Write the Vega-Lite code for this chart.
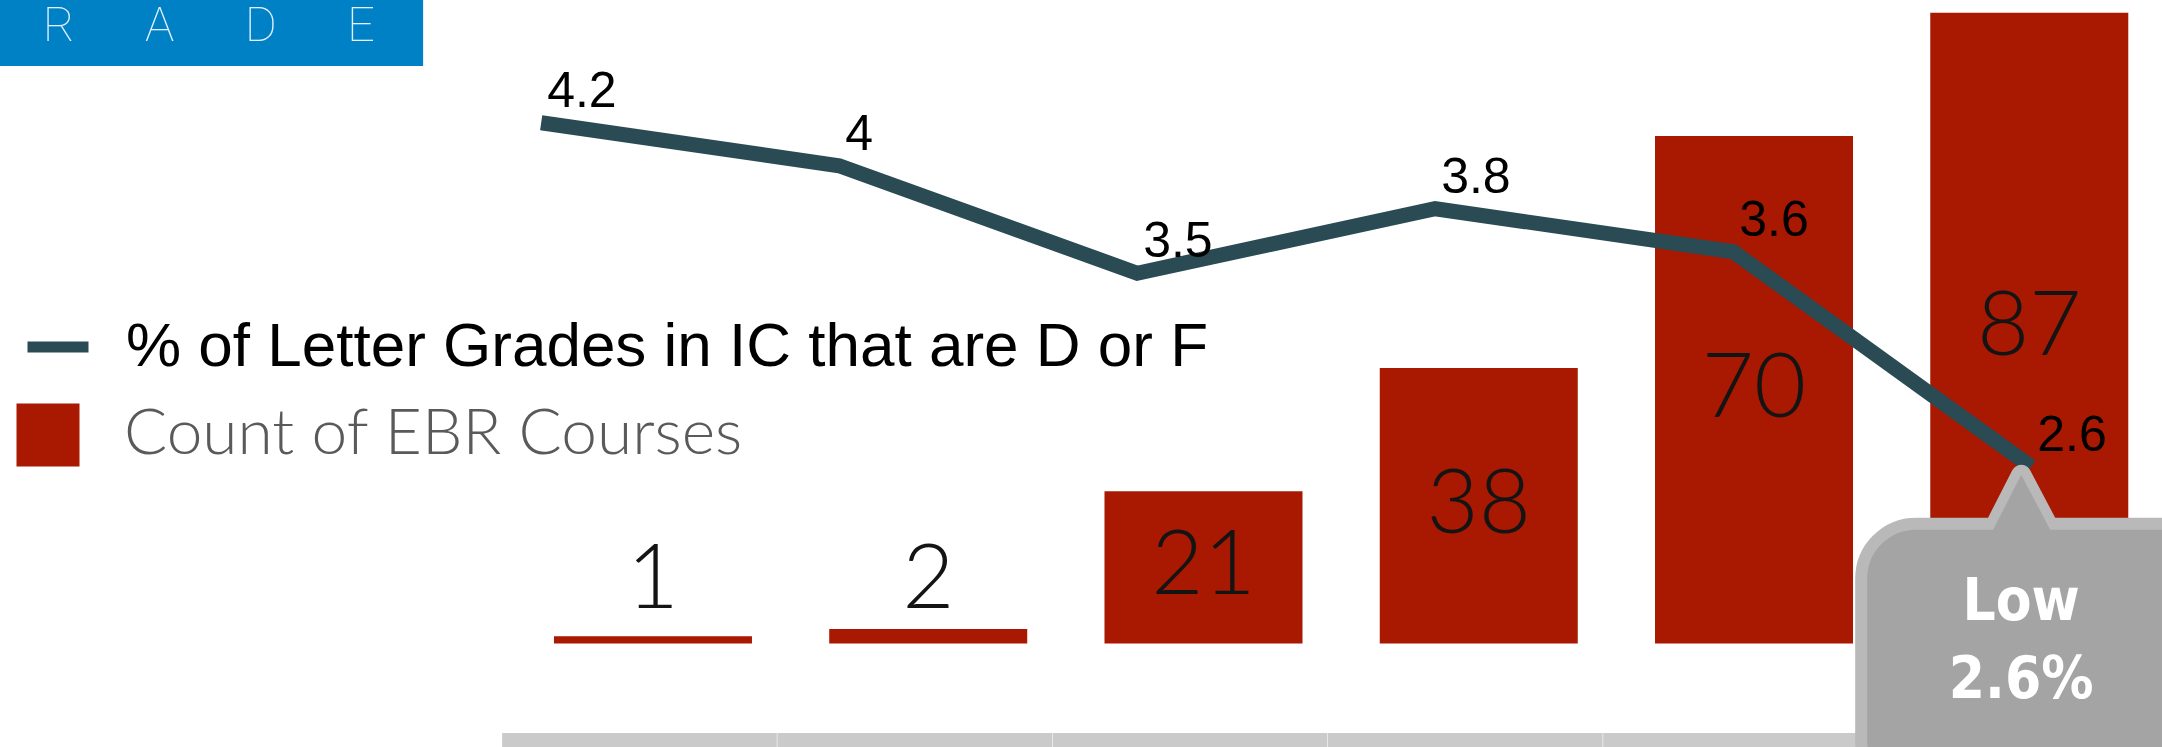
{
  "$schema": "https://vega.github.io/schema/vega-lite/v6.json",
  "width": 2162,
  "height": 747,
  "autosize": "none",
  "padding": 0,
  "background": "#ffffff",
  "config": {"view": {"stroke": null}},
  "data": {"values": [
    {"pos": 1, "count": 1, "pct": 4.2},
    {"pos": 2, "count": 2, "pct": 4.0},
    {"pos": 3, "count": 21, "pct": 3.5},
    {"pos": 4, "count": 38, "pct": 3.8},
    {"pos": 5, "count": 70, "pct": 3.6},
    {"pos": 6, "count": 87, "pct": 2.6}
  ]},
  "layer": [
    {
      "layer": [
        {
          "data": {"values": [{"title": "R\u00a0\u00a0\u00a0\u00a0\u00a0\u00a0A\u00a0\u00a0\u00a0\u00a0\u00a0\u00a0D\u00a0\u00a0\u00a0\u00a0\u00a0\u00a0E"}]},
          "transform": [
            {"calculate": "-1.40", "as": "hx0"},
            {"calculate": "0.165", "as": "hx1"},
            {"calculate": "89.5", "as": "hy0"},
            {"calculate": "79.66", "as": "hy1"}
          ],
          "mark": {"type": "rect", "color": "#0081c6"},
          "encoding": {
            "x": {"field": "hx0", "type": "quantitative", "scale": {"domain": [-1.354, 6.464], "nice": false, "zero": false}, "axis": null},
            "x2": {"field": "hx1"},
            "y": {"field": "hy0", "type": "quantitative", "scale": {"domain": [-14.28, 88.76], "nice": false, "zero": false}, "axis": null},
            "y2": {"field": "hy1"}
          }
        },
        {
          "data": {"values": [{"title": "R\u00a0\u00a0\u00a0\u00a0\u00a0\u00a0A\u00a0\u00a0\u00a0\u00a0\u00a0\u00a0D\u00a0\u00a0\u00a0\u00a0\u00a0\u00a0E"}]},
          "transform": [
            {"calculate": "-1.217", "as": "tx"},
            {"calculate": "83.1", "as": "ty"}
          ],
          "mark": {"type": "text", "font": "Roboto", "fontWeight": 100, "fontSize": 49, "color": "#e6f2fb", "align": "left", "baseline": "alphabetic"},
          "encoding": {
            "x": {"field": "tx", "type": "quantitative", "axis": null},
            "y": {"field": "ty", "type": "quantitative", "axis": null},
            "text": {"field": "title", "type": "nominal"}
          }
        },
        {
          "transform": [
            {"calculate": "datum.pos - 0.548", "as": "tileStart"},
            {"calculate": "datum.pos + 0.45", "as": "tileEnd"},
            {"calculate": "-12.34", "as": "tileTop"},
            {"calculate": "-14.28", "as": "tileBottom"}
          ],
          "mark": {"type": "rect", "color": "#cacaca"},
          "encoding": {
            "x": {"field": "tileStart", "type": "quantitative", "axis": null},
            "x2": {"field": "tileEnd"},
            "y": {"field": "tileTop", "type": "quantitative", "axis": null},
            "y2": {"field": "tileBottom"}
          }
        },
        {
          "transform": [{"calculate": "'Count of EBR Courses'", "as": "series"}],
          "mark": {"type": "bar", "width": 198},
          "encoding": {
            "x": {"field": "pos", "type": "quantitative", "scale": {"domain": [-1.354, 6.464], "nice": false, "zero": false}, "axis": null},
            "y": {"field": "count", "type": "quantitative", "stack": null, "scale": {"domain": [-14.28, 88.76], "nice": false, "zero": false}, "axis": null},
            "fill": {
              "field": "series",
              "type": "nominal",
              "scale": {"range": ["#a91800"]},
              "legend": {
                "orient": "none", "legendX": 16, "legendY": 403, "title": null, "padding": 0,
                "symbolType": "square", "symbolSize": 3969, "symbolStrokeWidth": 0, "symbolOpacity": 1,
                "labelFont": "Lato", "labelFontWeight": 300, "labelFontSize": 64, "labelColor": "#5a5a5a",
                "labelOffset": 44, "labelLimit": 0
              }
            }
          }
        },
        {
          "transform": [{"calculate": "max(datum.count / 2, 8.6)", "as": "labelY"}],
          "mark": {"type": "text", "font": "Lato", "fontWeight": 300, "fontSize": 90, "color": "#141414", "align": "center", "baseline": "middle"},
          "encoding": {
            "x": {"field": "pos", "type": "quantitative", "axis": null},
            "y": {"field": "labelY", "type": "quantitative", "axis": null},
            "text": {"field": "count", "type": "nominal"}
          }
        }
      ]
    },
    {
      "layer": [
        {
          "transform": [{"calculate": "'% of Letter Grades in IC that are D or F'", "as": "series"}],
          "mark": {"type": "line", "strokeWidth": 15, "strokeJoin": "miter", "strokeCap": "butt"},
          "encoding": {
            "x": {"field": "pos", "type": "quantitative", "scale": {"domain": [-0.816, 6.439], "nice": false, "zero": false}, "axis": null},
            "y": {"field": "pct", "type": "quantitative", "scale": {"domain": [1.296, 4.771], "nice": false, "zero": false}, "axis": null},
            "stroke": {
              "field": "series",
              "type": "nominal",
              "scale": {"range": ["#2a4b54"]},
              "legend": {
                "orient": "none", "legendX": 22, "legendY": 311, "title": null, "padding": 0,
                "symbolType": "stroke", "symbolSize": 3721, "symbolStrokeWidth": 11,
                "labelFont": "Liberation Sans", "labelFontSize": 62, "labelColor": "#000000",
                "labelOffset": 32, "labelLimit": 0
              }
            }
          }
        },
        {
          "mark": {"type": "text", "font": "Liberation Sans", "fontSize": 50, "color": "#000000", "align": "left", "baseline": "alphabetic", "dx": 6, "dy": -16},
          "encoding": {
            "x": {"field": "pos", "type": "quantitative", "axis": null},
            "y": {"field": "pct", "type": "quantitative", "axis": null},
            "text": {"field": "pct", "type": "nominal"}
          }
        },
        {
          "transform": [
            {"joinaggregate": [{"op": "min", "field": "pct", "as": "minPct"}]},
            {"filter": "datum.pct === datum.minPct"}
          ],
          "mark": {"type": "point", "shape": "M -0.10 0.08 L 0.19 0.63 L -0.38 0.63 Z", "size": 40000, "filled": true, "fill": "#a4a4a4", "stroke": "#b9b9b9", "strokeWidth": 20, "strokeJoin": "round", "opacity": 1},
          "encoding": {
            "x": {"field": "pos", "type": "quantitative", "axis": null},
            "y": {"field": "pct", "type": "quantitative", "axis": null}
          }
        },
        {
          "transform": [
            {"joinaggregate": [{"op": "min", "field": "pct", "as": "minPct"}]},
            {"filter": "datum.pct === datum.minPct"}
          ],
          "mark": {"type": "rect", "fill": "#a4a4a4", "stroke": "#b9b9b9", "strokeWidth": 12, "cornerRadius": 55, "xOffset": -170, "x2Offset": 200, "yOffset": 57, "y2Offset": 330},
          "encoding": {
            "x": {"field": "pos", "type": "quantitative", "axis": null},
            "x2": {"field": "pos"},
            "y": {"field": "pct", "type": "quantitative", "axis": null},
            "y2": {"field": "pct"}
          }
        },
        {
          "transform": [
            {"joinaggregate": [{"op": "min", "field": "pct", "as": "minPct"}]},
            {"filter": "datum.pct === datum.minPct"}
          ],
          "mark": {"type": "point", "shape": "M -0.10 0.08 L 0.19 0.63 L 0.19 0.72 L -0.38 0.72 L -0.38 0.63 Z", "size": 40000, "filled": true, "fill": "#a4a4a4", "strokeWidth": 0, "opacity": 1},
          "encoding": {
            "x": {"field": "pos", "type": "quantitative", "axis": null},
            "y": {"field": "pct", "type": "quantitative", "axis": null}
          }
        },
        {
          "transform": [
            {"joinaggregate": [{"op": "min", "field": "pct", "as": "minPct"}]},
            {"filter": "datum.pct === datum.minPct"},
            {"calculate": "'Low'", "as": "lowWord"}
          ],
          "mark": {"type": "text", "font": "Liberation Sans Narrow, DejaVu Sans Condensed, sans-serif", "fontWeight": "bold", "fontSize": 58, "color": "#ffffff", "align": "center", "baseline": "alphabetic", "dx": -10, "dy": 153},
          "encoding": {
            "x": {"field": "pos", "type": "quantitative", "axis": null},
            "y": {"field": "pct", "type": "quantitative", "axis": null},
            "text": {"field": "lowWord", "type": "nominal"}
          }
        },
        {
          "transform": [
            {"joinaggregate": [{"op": "min", "field": "pct", "as": "minPct"}]},
            {"filter": "datum.pct === datum.minPct"},
            {"calculate": "format(datum.pct, '.1f') + '%'", "as": "lowLabel"}
          ],
          "mark": {"type": "text", "font": "Liberation Sans Narrow, DejaVu Sans Condensed, sans-serif", "fontWeight": "bold", "fontSize": 58, "color": "#ffffff", "align": "center", "baseline": "alphabetic", "dx": -10, "dy": 231},
          "encoding": {
            "x": {"field": "pos", "type": "quantitative", "axis": null},
            "y": {"field": "pct", "type": "quantitative", "axis": null},
            "text": {"field": "lowLabel", "type": "nominal"}
          }
        }
      ]
    }
  ],
  "resolve": {"scale": {"x": "independent", "y": "independent"}}
}
